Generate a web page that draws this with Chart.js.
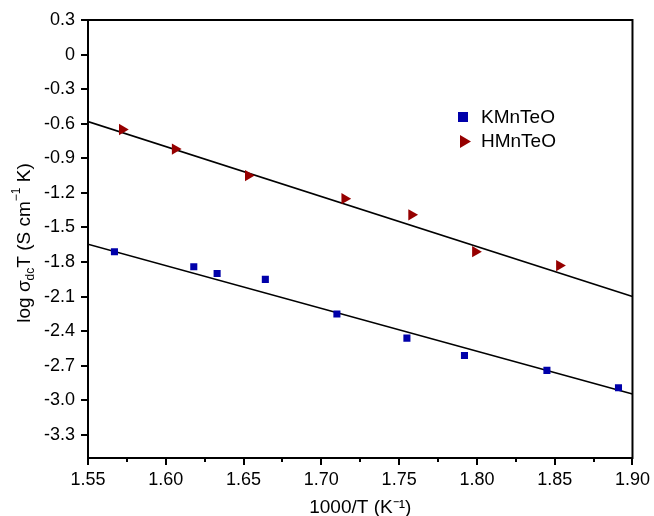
<!DOCTYPE html>
<html>
<head>
<meta charset="utf-8">
<script src="https://cdn.jsdelivr.net/npm/chart.js@4/dist/chart.umd.min.js"></script>
<style>
  html, body { margin: 0; padding: 0; background: #fff; }
  #wrap { width: 654px; height: 516px; }
</style>
</head>
<body>
<div id="wrap"><canvas id="arrhenius" width="654" height="516"></canvas></div>
<script>
// data
const kInvT = [1.567, 1.618, 1.633, 1.664, 1.710, 1.755, 1.792, 1.845, 1.891];
const kLogSigma = [-1.71, -1.84, -1.90, -1.95, -2.25, -2.46, -2.61, -2.74, -2.89];
const hInvT = [1.572, 1.606, 1.653, 1.715, 1.758, 1.799, 1.853];
const hLogSigma = [-0.65, -0.82, -1.05, -1.25, -1.39, -1.71, -1.83];

// linear fits drawn across the full x range
const fitX = [1.55, 1.90];
const kFitY = [-1.645, -2.944];
const hFitY = [-0.581, -2.098];

const xTicks = [1.55, 1.60, 1.65, 1.70, 1.75, 1.80, 1.85, 1.90];
const xMinorTicks = [1.575, 1.625, 1.675, 1.725, 1.775, 1.825, 1.875];
const yTicks = [0.3, 0, -0.3, -0.6, -0.9, -1.2, -1.5, -1.8, -2.1, -2.4, -2.7, -3.0, -3.3];
const yTickLabels = ['0.3', '0', '-0.3', '-0.6', '-0.9', '-1.2', '-1.5', '-1.8', '-2.1', '-2.4', '-2.7', '-3.0', '-3.3'];

const seriesNames = ['KMnTeO', 'HMnTeO'];
const blue = 'rgb(0, 0, 170)';
const red = 'rgb(150, 0, 0)';
const fontFamily = '"Liberation Sans", Arial, Helvetica, sans-serif';

const pts = (xs, ys) => xs.map((x, i) => ({ x: x, y: ys[i] }));

// frame, minor ticks, legend, y title with sub/superscripts
const extras = {
    id: 'extras',
    afterDraw(chart) {
        const c = chart.ctx;
        const a = chart.chartArea;
        const xs = chart.scales.x;
        c.save();
        c.strokeStyle = '#000';
        c.lineWidth = 2;
        c.strokeRect(a.left, a.top, a.right - a.left, a.bottom - a.top);

        c.beginPath();
        xMinorTicks.forEach(v => {
            const px = Math.round(xs.getPixelForValue(v));
            c.moveTo(px, a.bottom);
            c.lineTo(px, a.bottom + 4);
        });
        c.stroke();

        // legend
        c.font = '19px ' + fontFamily;
        c.textBaseline = 'middle';
        c.fillStyle = '#000';
        c.fillText(seriesNames[0], 481, 118);
        c.fillText(seriesNames[1], 481, 142);
        c.fillStyle = blue;
        c.fillRect(458, 112, 10, 10);
        c.fillStyle = red;
        c.beginPath();
        c.moveTo(460, 135);
        c.lineTo(471, 141.5);
        c.lineTo(460, 148);
        c.closePath();
        c.fill();

        // rotated y title: log σdcT (S cm-1 K)
        c.translate(25, 243);
        c.rotate(-Math.PI / 2);
        c.fillStyle = '#000';
        const big = '19px ' + fontFamily;
        const small = '12px ' + fontFamily;
        const parts = [
            { t: 'log \u03c3', f: big, dy: 0 },
            { t: 'dc', f: small, dy: 6 },
            { t: 'T (S cm', f: big, dy: 0 },
            { t: '\u22121', f: small, dy: -8 },
            { t: ' K)', f: big, dy: 0 }
        ];
        let w = 0;
        parts.forEach(p => { c.font = p.f; w += c.measureText(p.t).width; });
        let x0 = -w / 2;
        parts.forEach(p => {
            c.font = p.f;
            c.fillText(p.t, x0, p.dy);
            x0 += c.measureText(p.t).width;
        });
        c.restore();
    }
};

const ctx = document.getElementById('arrhenius').getContext('2d');

const arrheniusChart = new Chart(ctx, {
    type: 'scatter',
    data: {
        datasets: [
            {
                label: seriesNames[0],
                data: pts(kInvT, kLogSigma),
                pointStyle: 'rect',
                pointRadius: 5,
                backgroundColor: blue,
                borderColor: blue,
                borderWidth: 0
            },
            {
                label: seriesNames[1],
                data: pts(hInvT, hLogSigma),
                pointStyle: 'triangle',
                pointRotation: 90,
                pointRadius: 6.5,
                backgroundColor: red,
                borderColor: red,
                borderWidth: 0
            },
            {
                label: 'fit K',
                data: pts(fitX, kFitY),
                showLine: true,
                pointRadius: 0,
                borderColor: '#000',
                borderWidth: 1.6
            },
            {
                label: 'fit H',
                data: pts(fitX, hFitY),
                showLine: true,
                pointRadius: 0,
                borderColor: '#000',
                borderWidth: 1.6
            }
        ]
    },
    options: {
        responsive: false,
        animation: false,
        layout: { padding: { left: 0, top: 20, right: 20, bottom: 0 } },
        scales: {
            x: {
                type: 'linear',
                min: 1.55,
                max: 1.90,
                afterFit: s => { s.height = 58; },
                afterBuildTicks: s => { s.ticks = xTicks.map(v => ({ value: v })); },
                ticks: {
                    color: '#000',
                    font: { size: 18, family: fontFamily },
                    padding: 4,
                    maxRotation: 0,
                    callback: v => v.toFixed(2)
                },
                grid: { drawOnChartArea: false, color: '#000', lineWidth: 2, tickLength: 7 },
                border: { color: '#000', width: 2 },
                title: {
                    display: true,
                    text: '1000/T (K\u207b\u00b9)',
                    color: '#000',
                    font: { size: 19, family: fontFamily },
                    padding: { top: 4, bottom: -3 }
                }
            },
            y: {
                min: -3.5,
                max: 0.3,
                afterFit: s => { s.width = 88; },
                afterBuildTicks: s => { s.ticks = yTicks.map(v => ({ value: v })); },
                ticks: {
                    color: '#000',
                    font: { size: 18, family: fontFamily },
                    padding: 6,
                    callback: v => yTickLabels[yTicks.findIndex(t => Math.abs(t - v) < 1e-9)]
                },
                grid: { drawOnChartArea: false, color: '#000', lineWidth: 2, tickLength: 7 },
                border: { color: '#000', width: 2 }
            }
        },
        plugins: {
            legend: { display: false },
            tooltip: { enabled: false }
        }
    },
    plugins: [extras]
});
</script>
</body>
</html>
